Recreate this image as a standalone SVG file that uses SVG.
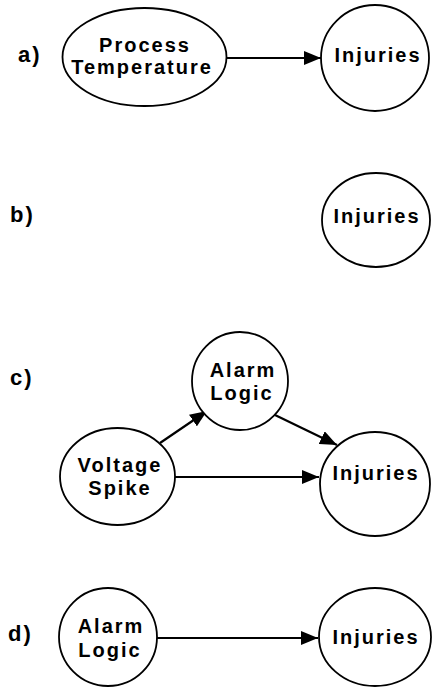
<svg xmlns="http://www.w3.org/2000/svg" width="432" height="687" viewBox="0 0 432 687">
<style>
.n{fill:#fff;stroke:#000;stroke-width:1.8}
.t{font-family:"Liberation Sans",Arial,sans-serif;font-weight:bold;font-size:20px;letter-spacing:2px;text-anchor:middle;fill:#000}
.l{font-family:"Liberation Sans",Arial,sans-serif;font-weight:bold;font-size:22px;letter-spacing:2px;fill:#000}
.e{stroke:#000;stroke-width:2.2;fill:none;marker-end:url(#ah)}
</style>
<defs>
<marker id="ah" markerUnits="userSpaceOnUse" markerWidth="18" markerHeight="14" refX="17" refY="7" orient="auto">
<path d="M0,0 L17,7 L0,14 z" fill="#000"/>
</marker>
</defs>
<rect width="432" height="687" fill="#fff"/>
<g id="labels">
<text class="l" x="18" y="62">a)</text>
<text class="l" x="10" y="222">b)</text>
<text class="l" x="10" y="385">c)</text>
<text class="l" x="8" y="641">d)</text>
</g>
<g id="connectors">
<line class="e" x1="227" y1="58" x2="321" y2="58"/>
<line class="e" x1="160" y1="443" x2="207" y2="411"/>
<line class="e" x1="275" y1="415" x2="337" y2="445"/>
<line class="e" x1="175" y1="477" x2="319" y2="477"/>
<line class="e" x1="157" y1="638" x2="318" y2="638"/>
</g>
<g id="a-process">
<ellipse class="n" cx="144.5" cy="57" rx="82" ry="49"/>
<text class="t" x="145" y="51.5">Process</text>
<text class="t" x="142" y="74">Temperature</text>
</g>
<g id="a-injuries">
<ellipse class="n" cx="375" cy="58" rx="54" ry="53"/>
<text class="t" x="378" y="62">Injuries</text>
</g>
<g id="b-injuries">
<ellipse class="n" cx="376" cy="220" rx="54" ry="47"/>
<text class="t" x="377" y="223">Injuries</text>
</g>
<g id="c-alarm">
<ellipse class="n" cx="240" cy="381" rx="48" ry="49"/>
<text class="t" x="243" y="377">Alarm</text>
<text class="t" x="242" y="400">Logic</text>
</g>
<g id="c-voltage">
<ellipse class="n" cx="117.5" cy="476.5" rx="57.5" ry="48.5"/>
<text class="t" x="120" y="472">Voltage</text>
<text class="t" x="120" y="495">Spike</text>
</g>
<g id="c-injuries">
<ellipse class="n" cx="375" cy="484" rx="55" ry="52"/>
<text class="t" x="376" y="480">Injuries</text>
</g>
<g id="d-alarm">
<ellipse class="n" cx="108" cy="637" rx="49" ry="49"/>
<text class="t" x="111" y="633">Alarm</text>
<text class="t" x="110" y="657">Logic</text>
</g>
<g id="d-injuries">
<ellipse class="n" cx="375" cy="637" rx="56" ry="49"/>
<text class="t" x="376" y="644">Injuries</text>
</g>
</svg>
